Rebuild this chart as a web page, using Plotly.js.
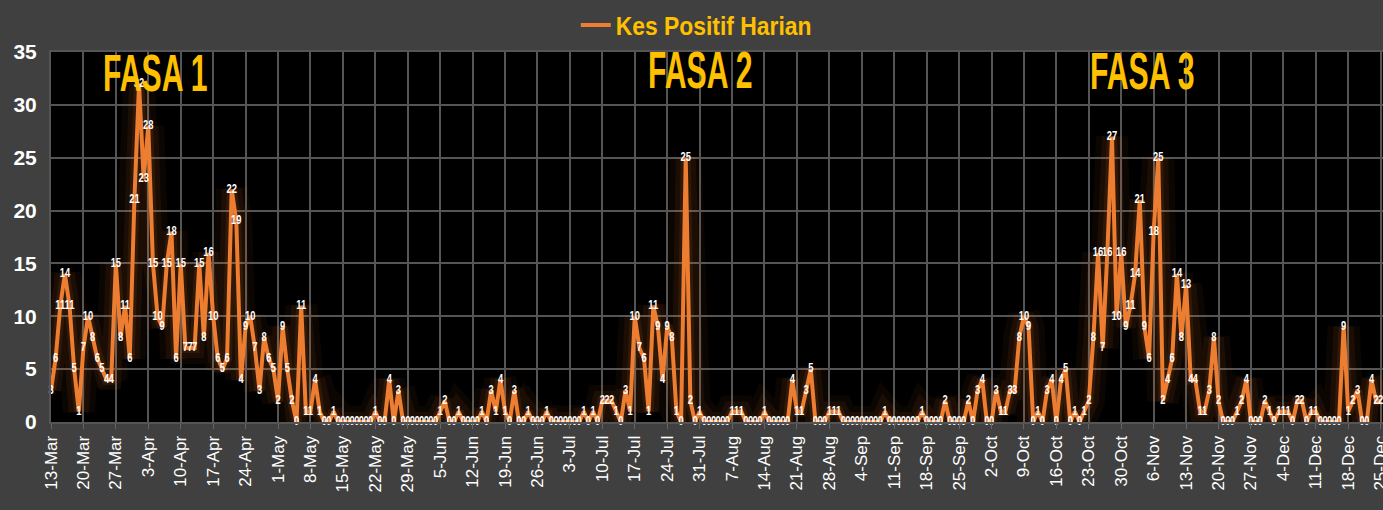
<!DOCTYPE html>
<html><head><meta charset="utf-8">
<script src="https://cdn.plot.ly/plotly-3.0.1.min.js"></script>
<style>
html,body{margin:0;padding:0;background:#404040;}
.annotation-text{transform-box:fill-box;transform-origin:center;transform:scaleX(0.58);}
.textpoint text{transform-box:fill-box;transform-origin:center;transform:scaleX(0.72);}
.legendtext{transform-box:fill-box;transform-origin:left center;transform:scaleX(0.88);}
</style></head>
<body><div id="chart" style="width:1383px;height:510px;"></div>
<script>
// Daily new positive cases, 13-Mar-2020 .. 25-Dec-2020
const firstDay = [2020, 2, 13]; // 13 March 2020
const mar = [3,6,11,14,11,5,1,7,10,8,6,5,4,4,15,8,11,6,21];
const apr = [32,23,28,15,10,9,15,18,6,15, 7,7,7,15,8,16,10,6,5,6, 22,19,4,9,10,7,3,8,6,5];
const may = [2,9,5,2,0,11,1,1,4,1, 0,0,1,0,0,0,0,0,0,0, 0,1,0,0,4,0,3,0,0,0,0];
const jun = [0,0,0,0,1,2,0,0,1,0, 0,0,0,1,0,3,1,4,1,0, 3,0,0,1,0,0,0,1,0,0];
const jul = [0,0,0,0,0,1,0,1,0,2, 2,2,1,0,3,1,10,7,6,1, 11,9,4,9,8,1,0,25,2,0,1];
const aug = [0,0,0,0,0,0,1,1,1,0, 0,0,0,1,0,0,0,0,0,4, 1,1,3,5,0,0,0,1,1,1,0];
const sep = [0,0,0,0,0,0,0,0,1,0, 0,0,0,0,0,0,1,0,0,0, 0,2,0,0,0,0,2,0,3,4];
const oct = [0,0,3,1,1,3,3,8,10,9, 0,1,0,3,4,0,4,5,0,1, 0,1,2,8,16,7,16,27,10,16, 9];
const nov = [11,14,21,9,6,18,25,2,4,6, 14,8,13,4,4,1,1,3,8,2, 0,0,0,1,2,4,0,0,0,2];
const dec = [1,0,1,1,1,0,2,2,0,1, 1,0,0,0,0,0,9,1,2,3, 0,0,4,2,2];
const seriesName = 'Kes Positif Harian';
const phaseNames = ['FASA 1', 'FASA 2', 'FASA 3'];
const yTicks = [0,5,10,15,20,25,30,35];

const values = [].concat(mar, apr, may, jun, jul, aug, sep, oct, nov, dec);
const dates = values.map((v, i) => new Date(Date.UTC(firstDay[0], firstDay[1], firstDay[2] + i)).toISOString().slice(0, 10));
const rangeEnd = dates[dates.length - 1] + ' 12:00';

const orange = '#ED7D31';
const glow = (w, a) => ({
  x: dates, y: values, type: 'scatter', mode: 'lines', hoverinfo: 'skip', showlegend: false,
  line: {color: 'rgba(237,125,49,' + a + ')', width: w, shape: 'linear'}
});

const traces = [
  glow(32, 0.05), glow(20, 0.07), glow(10, 0.1),
  {
    x: dates, y: values, type: 'scatter', mode: 'lines+text', name: seriesName,
    text: values.map(String), textposition: 'middle center',
    textfont: {family: 'Liberation Sans', size: 13, color: '#ffffff', weight: 'bold'},
    line: {color: orange, width: 4},
    cliponaxis: false
  }
];

const phaseFont = {family: 'Liberation Sans', size: 52, color: '#FFC000', weight: 'bold'};
const layout = {
  width: 1383, height: 510,
  paper_bgcolor: '#404040', plot_bgcolor: '#000000',
  margin: {l: 51, r: 0, t: 52, b: 88, pad: 0},
  showlegend: true,
  legend: {orientation: 'h', x: 0.394, xanchor: 'left', y: 1.073, yanchor: 'middle',
    bgcolor: 'rgba(0,0,0,0)', font: {family: 'Liberation Sans', size: 26, color: '#FFC000', weight: 'bold'}},
  xaxis: {
    type: 'date', range: [dates[0], rangeEnd],
    tick0: dates[0], dtick: 7 * 86400000, tickformat: '%-d-%b', tickangle: -90,
    tickfont: {family: 'Liberation Sans', size: 17, color: '#ffffff'},
    ticklabeloverflow: 'allow',
    ticks: 'outside', ticklen: 5, tickcolor: '#666666', tickwidth: 1,
    showgrid: true, gridcolor: '#555555', gridwidth: 2,
    showline: true, linecolor: '#555555', linewidth: 2, mirror: true,
    zeroline: false, fixedrange: true
  },
  yaxis: {
    range: [0, 35], tickvals: yTicks,
    tickfont: {family: 'Liberation Sans', size: 21, color: '#ffffff', weight: 'bold'},
    ticklabelstandoff: 8,
    showgrid: true, gridcolor: '#555555', gridwidth: 2,
    showline: true, linecolor: '#555555', linewidth: 2, mirror: true,
    zeroline: false, ticks: '', fixedrange: true
  },
  annotations: [
    {text: phaseNames[0], xref: 'paper', yref: 'paper', x: 0.078, y: 0.943, showarrow: false, font: phaseFont, xanchor: 'center', yanchor: 'middle'},
    {text: phaseNames[1], xref: 'paper', yref: 'paper', x: 0.487, y: 0.951, showarrow: false, font: phaseFont, xanchor: 'center', yanchor: 'middle'},
    {text: phaseNames[2], xref: 'paper', yref: 'paper', x: 0.819, y: 0.946, showarrow: false, font: phaseFont, xanchor: 'center', yanchor: 'middle'}
  ]
};

Plotly.newPlot('chart', traces, layout, {displayModeBar: false, staticPlot: true});
</script>
</body></html>
